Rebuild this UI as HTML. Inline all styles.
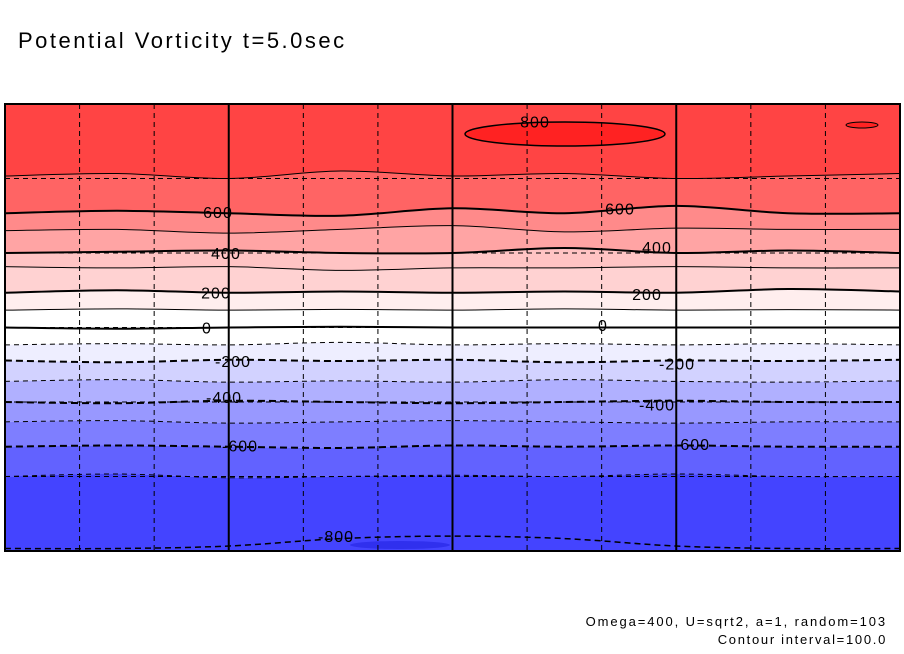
<!DOCTYPE html>
<html><head><meta charset="utf-8"><style>
html,body{margin:0;padding:0;background:#fff;}
svg{display:block;font-family:"Liberation Sans",sans-serif;}
</style></head><body>
<svg id="chart" width="904" height="654" viewBox="0 0 904 654">
<text x="18" y="48" font-size="22" letter-spacing="2.5" fill="#000">Potential Vorticity t=5.0sec</text>
<g id="plot"></g>
<text x="887" y="626" font-size="13" letter-spacing="1.9" text-anchor="end">Omega=400, U=sqrt2, a=1, random=103</text>
<text x="887" y="644" font-size="13" letter-spacing="1.7" text-anchor="end">Contour interval=100.0</text>
</svg>
<script>
const levels=[700,600,500,400,300,200,100,0,-100,-200,-300,-400,-500,-600,-700];
const boundaryLat=[
[61,62,60,63,61,62,60,61,62],
[46,47,46,45,48,46,49,46,46],
[39,39.5,38,39.5,41,38.5,40,39.5,39.5],
[30,30.5,31,30,30,32,30,31,30],
[24.5,24,24.5,23,24,24,24.5,24,24],
[14,15,14,14.5,14,14.5,14,15.5,14.5],
[7,7.5,7,7.3,7,7.5,7,7.2,7],
[0,-0.5,0,0.3,0,0,0,0,0],
[-7,-6.5,-7,-6,-7,-6.5,-7,-6.5,-7],
[-13.3,-14,-13,-13.5,-13,-14,-13.3,-13.5,-13],
[-21.7,-21,-22,-21.5,-22,-21,-21.7,-22,-21.5],
[-30,-30.5,-29.5,-30,-30.5,-30,-29.5,-30,-30],
[-38,-37.5,-38.5,-38,-37.5,-38,-38.5,-38,-38],
[-48,-47.5,-48,-48.5,-47.5,-48,-47.5,-48,-48],
[-60,-59,-60.5,-60,-59.5,-60,-59,-60,-60]
];
const bandColors=["#ff4444","#ff6464","#ff8a8a","#ffa4a4","#ffc4c4","#ffd2d2","#ffeeee","#ffffff","#ffffff","#eeeeff","#d2d2ff","#b0b0ff","#9898ff","#7e7eff","#6262ff","#4444ff"];
const lowLat=[-89,-89,-88,-85,-84,-85,-88,-89,-89];
const labelText=["800","600","600","400","400","200","200","0","0","-200","-200","-400","-400","-600","-600","-800"];
const labelX=[535,218,620,226,657,216,647,207,603,233,677,224,657,240,692,336];
const labelLat=[83,46.5,48,30,32.5,14,13.5,0,1,-13.5,-14.5,-28,-31,-47.5,-47,-84];

const L=5,R=900,T=104,B=551;
const xs=i=>L+(R-L)*i/8;
const yLat=lat=>T+(90-lat)/180*(B-T);
const ns="http://www.w3.org/2000/svg";
const g=document.getElementById('plot');
function mk(tag,attrs){const e=document.createElementNS(ns,tag);for(const k in attrs)e.setAttribute(k,attrs[k]);g.appendChild(e);return e;}
function pts(arr){return arr.map((v,i)=>[xs(i),yLat(v)]);}
function smooth(p){let d="M"+p[0][0]+","+p[0][1];for(let i=0;i<p.length-1;i++){const p0=p[Math.max(0,i-1)],p1=p[i],p2=p[i+1],p3=p[Math.min(p.length-1,i+2)];d+=" C"+(p1[0]+(p2[0]-p0[0])/6)+","+(p1[1]+(p2[1]-p0[1])/6)+" "+(p2[0]-(p3[0]-p1[0])/6)+","+(p2[1]-(p3[1]-p1[1])/6)+" "+p2[0]+","+p2[1];}return d;}
for(let b=0;b<bandColors.length;b++){
  const top=b===0?null:boundaryLat[b-1];
  const bot=b<boundaryLat.length?boundaryLat[b]:null;
  const tp=top?pts(top):[[L,T],[R,T]];
  const bp=bot?pts(bot):[[L,B],[R,B]];
  let d=smooth(tp)+" L"+bp[bp.length-1][0]+","+bp[bp.length-1][1];
  const rb=bp.slice().reverse();
  d+=smooth(rb).replace(/^M/," L")+" Z";
  const e=mk('path',{d:d,fill:bandColors[b]});
  
  
}
let e=mk('ellipse',{cx:565,cy:134,rx:100,ry:12,fill:"#ff2222",stroke:"#000","stroke-width":1.5});


e=mk('ellipse',{cx:862,cy:125,rx:16,ry:3,fill:"#ff2222",stroke:"#000","stroke-width":1});


e=mk('path',{d:smooth(pts(lowLat)),fill:"none",stroke:"#000","stroke-width":1.5,"stroke-dasharray":"6,4"});


e=mk('ellipse',{cx:400,cy:545,rx:50,ry:4,fill:"#3030ee"});


levels.forEach((lv,i)=>{
  const thick=lv%200===0;
  const c=mk('path',{d:smooth(pts(boundaryLat[i])),fill:"none",stroke:"#000","stroke-width":thick?2:1});
  if(lv<0)c.setAttribute('stroke-dasharray',thick?'7,4':'5,4');
  
  
});
for(let i=1;i<12;i++){
  const x=L+(R-L)*i/12;
  const solid=i%3===0;
  const l=mk('line',{x1:x,x2:x,y1:T,y2:B,stroke:"#000","stroke-width":solid?2:1});
  if(!solid)l.setAttribute('stroke-dasharray','5,4');
  
  
}
for(let j=1;j<6;j++){
  const y=T+(B-T)*j/6;
  const l=mk('line',{x1:L,x2:R,y1:y,y2:y,stroke:"#000","stroke-width":1,"stroke-dasharray":"5,4"});
  
  
}
labelText.forEach((t,i)=>{
  const tx=mk('text',{x:labelX[i],y:yLat(labelLat[i])+6,"font-size":16,"letter-spacing":1,"text-anchor":"middle",fill:"#000"});
  tx.textContent=t;
  
  
});
e=mk('rect',{x:L,y:T,width:R-L,height:B-T,fill:"none",stroke:"#000","stroke-width":2});


</script>
</body></html>
